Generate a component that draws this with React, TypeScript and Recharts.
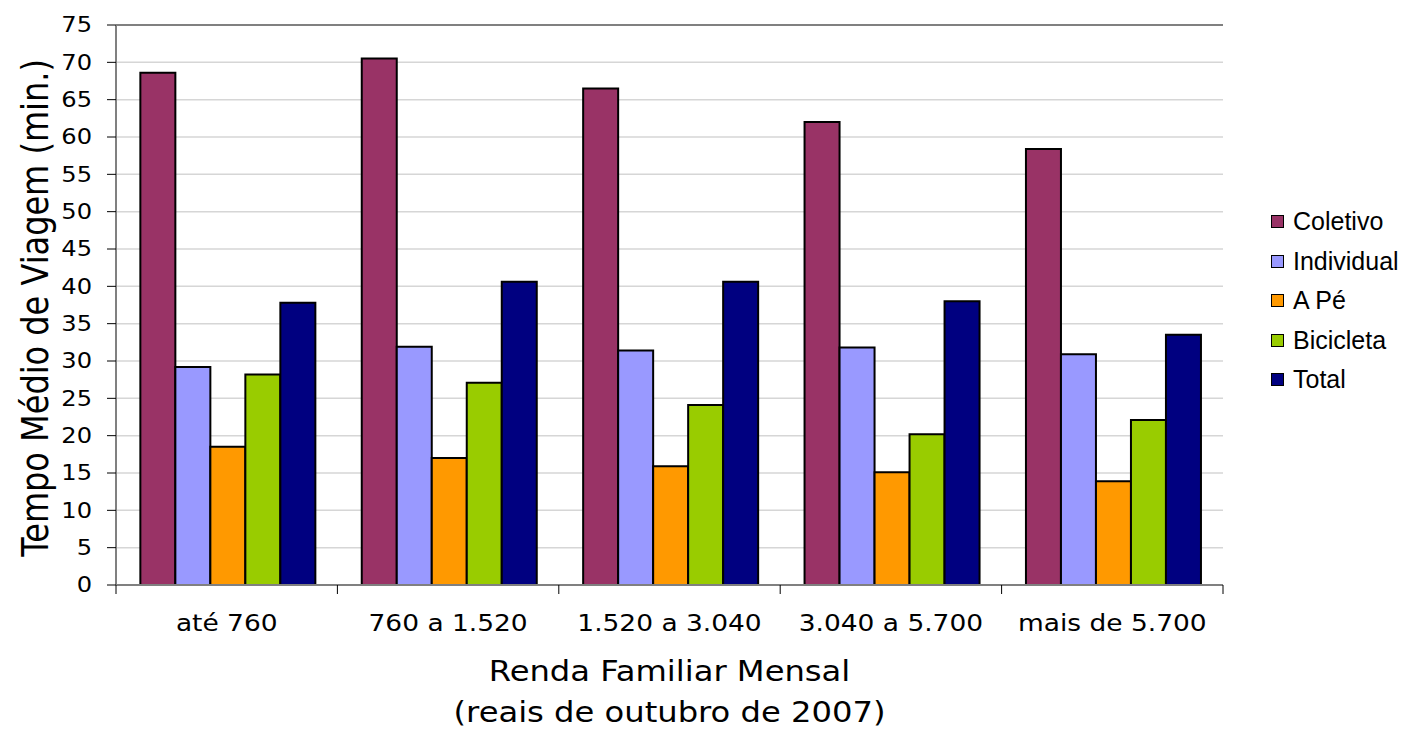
import React from "react";
import { BarChart, Bar, XAxis, YAxis, CartesianGrid, Legend, ReferenceLine, Label } from "recharts";

const categories = ["até 760", "760 a 1.520", "1.520 a 3.040", "3.040 a 5.700", "mais de 5.700"];
const coletivo = [68.6, 70.5, 66.5, 62.0, 58.4];
const individual = [29.2, 31.9, 31.4, 31.8, 30.9];
const aPe = [18.5, 17.0, 15.9, 15.1, 13.9];
const bicicleta = [28.2, 27.1, 24.1, 20.2, 22.1];
const total = [37.8, 40.6, 40.6, 38.0, 33.5];
const yTicks = [0, 5, 10, 15, 20, 25, 30, 35, 40, 45, 50, 55, 60, 65, 70, 75];

const SERIES = [
  { key: "coletivo", name: "Coletivo", color: "#993366" },
  { key: "individual", name: "Individual", color: "#9999FF" },
  { key: "aPe", name: "A Pé", color: "#FF9900" },
  { key: "bicicleta", name: "Bicicleta", color: "#99CC00" },
  { key: "total", name: "Total", color: "#000080" },
];

const data = categories.map((name, i) => ({
  name,
  coletivo: coletivo[i],
  individual: individual[i],
  aPe: aPe[i],
  bicicleta: bicicleta[i],
  total: total[i],
}));

const W = 1408;
const H = 729;
const MARGIN = { top: 25, right: 185, left: 0, bottom: 0 };
const Y_AXIS_W = 116;
const X_AXIS_H = 144;
// width of one category band, used to put the x tick marks between groups
const STEP = (W - MARGIN.right - Y_AXIS_W) / categories.length;
const PLOT_MID_Y = MARGIN.top + (H - MARGIN.top - X_AXIS_H) / 2;

const axisFont = "'DejaVu Sans', Verdana, sans-serif";
const AXIS_GREY = "#808080";
const STRETCH = 1.15;

function CategoryTick(props: any) {
  const { x, y, payload, index } = props;
  const left = x - STEP / 2;
  const right = x + STEP / 2;
  return (
    <g>
      <line x1={left} x2={left} y1={y} y2={y + 9} stroke="#000" />
      {index === categories.length - 1 && <line x1={right} x2={right} y1={y} y2={y + 9} stroke="#000" />}
      <text
        transform={`translate(${x}, ${y + 46}) scale(${STRETCH}, 1)`}
        textAnchor="middle"
        fontFamily={axisFont}
        fontSize={23}
        fill="#000"
      >
        {payload.value}
      </text>
    </g>
  );
}

function ValueTick(props: any) {
  const { x, y, payload } = props;
  return (
    <text
      transform={`translate(${x}, ${y}) scale(${STRETCH}, 1)`}
      textAnchor="end"
      dominantBaseline="central"
      fontFamily={axisFont}
      fontSize={21}
      fill="#000"
    >
      {payload.value}
    </text>
  );
}

function XTitle(props: any) {
  const { x, y, width } = props.viewBox;
  const cx = x + width / 2;
  return (
    <g>
      <text transform={`translate(${cx}, ${y + 96}) scale(${STRETCH}, 1)`} textAnchor="middle" fontFamily={axisFont} fontSize={28} fill="#000">
        Renda Familiar Mensal
      </text>
      <text transform={`translate(${cx}, ${y + 137}) scale(${STRETCH}, 1)`} textAnchor="middle" fontFamily={axisFont} fontSize={28} fill="#000">
        (reais de outubro de 2007)
      </text>
    </g>
  );
}

function YTitle() {
  const cy = PLOT_MID_Y + 3;
  return (
    <text
      transform={`translate(35, ${cy}) scale(${STRETCH}, 1) rotate(-90)`}
      textAnchor="middle"
      dominantBaseline="central"
      fontFamily={axisFont}
      fontSize={32}
      fill="#000"
    >
      Tempo Médio de Viagem (min.)
    </text>
  );
}

function LegendBox() {
  return (
    <div style={{ fontFamily: "'Liberation Sans', Arial, sans-serif", fontSize: 25, color: "#000" }}>
      {SERIES.map((s) => (
        <div key={s.key} style={{ display: "flex", alignItems: "center", height: 39.5 }}>
          <span
            style={{
              display: "inline-block",
              width: 11,
              height: 11,
              background: s.color,
              border: "1.5px solid #000",
              marginRight: 9,
            }}
          />
          <span>{s.name}</span>
        </div>
      ))}
    </div>
  );
}

export default function App() {
  return (
    <div style={{ position: "absolute", left: 0, top: 0, width: W, height: H, background: "#fff" }}>
      <BarChart width={W} height={H} data={data} margin={MARGIN} barGap={0} barCategoryGap="11%">
        <CartesianGrid vertical={false} stroke="#d6d6d6" strokeWidth={1.5} />
        <XAxis
          dataKey="name"
          height={X_AXIS_H}
          tickLine={false}
          axisLine={{ stroke: AXIS_GREY, strokeWidth: 2 }}
          tickSize={0}
          tickMargin={0}
          tick={<CategoryTick />}
          interval={0}
        >
          <Label content={<XTitle />} />
        </XAxis>
        <YAxis
          width={Y_AXIS_W}
          domain={[0, 75]}
          ticks={yTicks}
          interval={0}
          tickSize={9}
          tickMargin={15}
          axisLine={{ stroke: AXIS_GREY, strokeWidth: 2 }}
          tickLine={{ stroke: "#000", strokeWidth: 1 }}
          tick={<ValueTick />}
        >
          <Label content={<YTitle />} />
        </YAxis>
        <YAxis
          yAxisId="right"
          orientation="right"
          width={0}
          domain={[0, 75]}
          tick={false}
          tickLine={false}
          axisLine={{ stroke: AXIS_GREY, strokeWidth: 2 }}
        />
        <ReferenceLine y={75} stroke={AXIS_GREY} strokeWidth={2} />
        {SERIES.map((s) => (
          <Bar
            key={s.key}
            dataKey={s.key}
            name={s.name}
            fill={s.color}
            stroke="#000"
            strokeWidth={2}
            isAnimationActive={false}
          />
        ))}
        <Legend
          layout="vertical"
          align="center"
          verticalAlign="middle"
          content={<LegendBox />}
          wrapperStyle={{ left: 1271, top: 202, width: 137 }}
        />
      </BarChart>
    </div>
  );
}
